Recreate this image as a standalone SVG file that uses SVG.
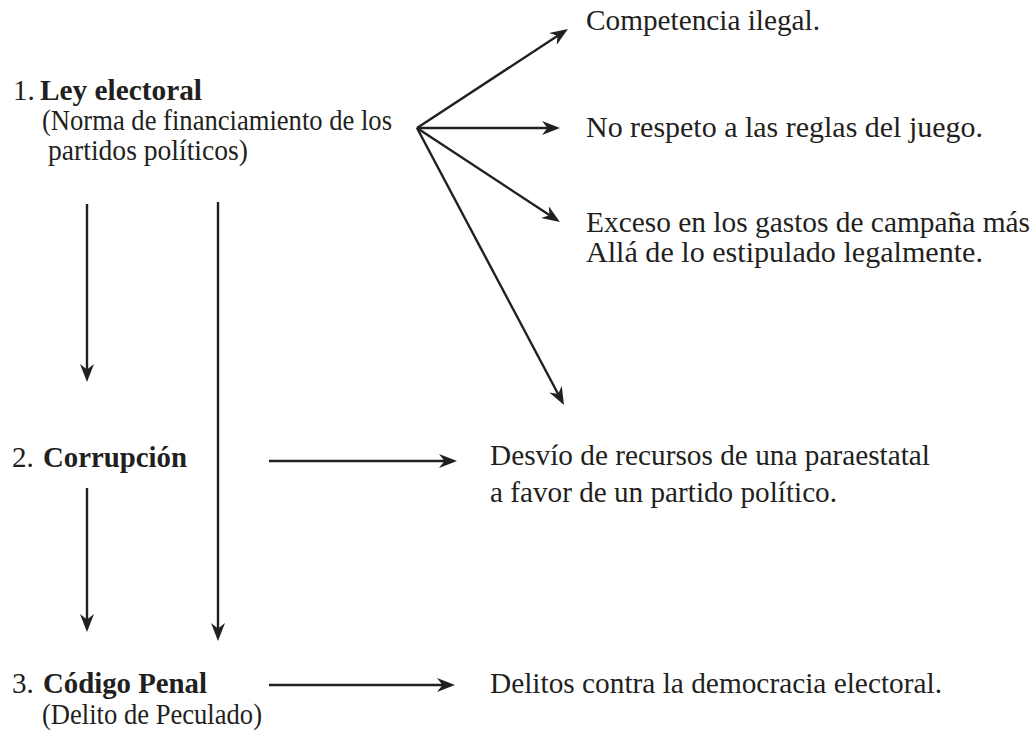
<svg xmlns="http://www.w3.org/2000/svg" width="1034" height="738" viewBox="0 0 1034 738">
<style>
text { font-family: "Liberation Serif", "Times New Roman", serif; font-size: 29px; fill: #231f20; }
.b { font-weight: bold; }
.c { stroke: #231f20; stroke-width: 2.4; fill: none; marker-end: url(#ah); }
</style>
<defs>
<marker id="ah" viewBox="0 0 18 14" markerWidth="18" markerHeight="14" markerUnits="userSpaceOnUse" refX="8" refY="7" orient="auto">
<path d="M0,0 L18,7 L0,14 L5.5,7 Z" fill="#231f20"/>
</marker>
</defs>
<rect width="1034" height="738" fill="#ffffff"/>
<g id="connectors">
<line class="c" x1="417" y1="128" x2="559.6" y2="34.5"/>
<line class="c" x1="417" y1="128" x2="550" y2="128"/>
<line class="c" x1="417" y1="128" x2="551.6" y2="216.5"/>
<line class="c" x1="417" y1="128" x2="559.3" y2="396.2"/>
<line class="c" x1="87" y1="204" x2="87" y2="372"/>
<line class="c" x1="218" y1="202" x2="218" y2="631"/>
<line class="c" x1="87" y1="488" x2="87" y2="622"/>
<line class="c" x1="269" y1="461" x2="447" y2="461"/>
<line class="c" x1="269" y1="685" x2="445" y2="685"/>
</g>
<g id="node-ley">
<text x="13" y="100">1.</text>
<text class="b" x="40" y="100" textLength="162" lengthAdjust="spacingAndGlyphs">Ley electoral</text>
<text x="42" y="130" textLength="350" lengthAdjust="spacingAndGlyphs">(Norma de financiamiento de los</text>
<text x="48" y="160" textLength="200" lengthAdjust="spacingAndGlyphs">partidos políticos)</text>
</g>
<g id="node-corrupcion">
<text x="12" y="467">2.</text>
<text class="b" x="43" y="467" textLength="144" lengthAdjust="spacingAndGlyphs">Corrupción</text>
</g>
<g id="node-codigo">
<text x="12" y="693">3.</text>
<text class="b" x="43" y="693" textLength="164" lengthAdjust="spacingAndGlyphs">Código Penal</text>
<text x="42" y="724" textLength="220" lengthAdjust="spacingAndGlyphs">(Delito de Peculado)</text>
</g>
<g id="node-competencia">
<text x="586" y="30" textLength="234" lengthAdjust="spacingAndGlyphs">Competencia ilegal.</text>
</g>
<g id="node-respeto">
<text x="586" y="137" textLength="397" lengthAdjust="spacingAndGlyphs">No respeto a las reglas del juego.</text>
</g>
<g id="node-exceso">
<text x="586" y="232" textLength="444" lengthAdjust="spacingAndGlyphs">Exceso en los gastos de campaña más</text>
<text x="586" y="262" textLength="397" lengthAdjust="spacingAndGlyphs">Allá de lo estipulado legalmente.</text>
</g>
<g id="node-desvio">
<text x="490" y="465" textLength="440" lengthAdjust="spacingAndGlyphs">Desvío de recursos de una paraestatal</text>
<text x="490" y="502" textLength="347" lengthAdjust="spacingAndGlyphs">a favor de un partido político.</text>
</g>
<g id="node-delitos">
<text x="490" y="693" textLength="452" lengthAdjust="spacingAndGlyphs">Delitos contra la democracia electoral.</text>
</g>
</svg>
